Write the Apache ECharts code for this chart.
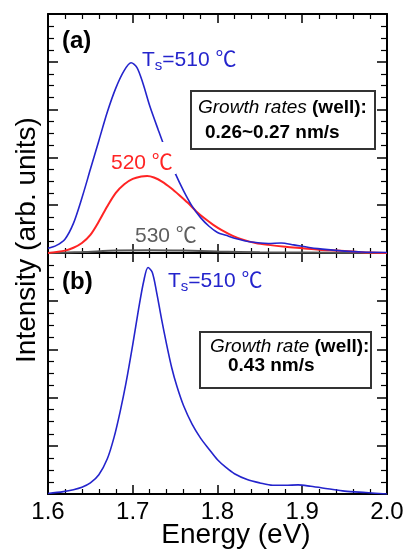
<!DOCTYPE html>
<html><head><meta charset="utf-8">
<script src="https://cdn.jsdelivr.net/npm/echarts@6/dist/echarts.min.js"></script>
<style>html,body{margin:0;padding:0;background:#fff}#c{width:407px;height:549px}</style>
</head><body><div id="c"></div>
<script>
// ---- data ----
const xTickLabels = ['1.6', '1.7', '1.8', '1.9', '2.0'];
const yRange = [0, 5];

// Panel (a): Ts = 510 C
const energyA510 = [1.600,1.610,1.620,1.630,1.640,1.650,1.660,1.670,1.680,1.690,1.698,1.705,1.712,1.720,1.730,1.740,1.750,1.760,1.770,1.780,1.790,1.800,1.810,1.820,1.840,1.860,1.875,1.890,1.910,1.930,1.950,1.970,2.000];
const intensityA510 = [0.10,0.16,0.29,0.62,1.15,1.75,2.35,2.95,3.45,3.82,3.98,3.88,3.55,3.08,2.58,2.10,1.67,1.30,0.98,0.74,0.56,0.43,0.37,0.31,0.23,0.20,0.21,0.17,0.11,0.07,0.04,0.02,0.01];

// Panel (a): 520 C
const energyA520 = [1.600,1.620,1.630,1.640,1.650,1.660,1.670,1.680,1.690,1.700,1.710,1.717,1.725,1.735,1.745,1.755,1.765,1.775,1.785,1.795,1.805,1.818,1.830,1.845,1.860,1.880,1.900,1.920,1.940,1.960,1.980,2.000];
const intensityA520 = [0.00,0.05,0.11,0.21,0.38,0.66,0.98,1.26,1.44,1.55,1.60,1.61,1.58,1.49,1.36,1.21,1.05,0.87,0.72,0.59,0.48,0.36,0.28,0.21,0.17,0.13,0.10,0.07,0.05,0.03,0.01,0.00];

// Panel (a): 530 C
const energyA530 = [1.600,1.640,1.680,1.720,1.760,1.800,1.850,1.900,2.000];
const intensityA530 = [0.00,0.02,0.05,0.06,0.05,0.03,0.015,0.01,0.00];

// Panel (b): Ts = 510 C, high growth rate
const energyB510 = [1.600,1.618,1.630,1.640,1.650,1.660,1.670,1.678,1.685,1.692,1.700,1.707,1.713,1.718,1.723,1.728,1.734,1.740,1.746,1.752,1.760,1.770,1.780,1.790,1.800,1.810,1.820,1.835,1.850,1.865,1.880,1.895,1.910,1.930,1.950,1.975,2.000];
const intensityB510 = [0.01,0.05,0.09,0.14,0.23,0.40,0.73,1.18,1.70,2.30,3.10,3.85,4.42,4.70,4.60,4.20,3.63,3.10,2.62,2.24,1.83,1.45,1.16,0.93,0.71,0.55,0.42,0.30,0.23,0.18,0.18,0.19,0.16,0.11,0.06,0.03,0.00];

// ---- chart ----
const FONT = "'Liberation Sans', 'Noto Sans CJK SC', Arial, sans-serif";
const BLUE = '#2424cc', RED = '#ff2424', GRAY = '#555555';
const zip = (a, b) => a.map((v, i) => [v, b[i]]);
const xMin = parseFloat(xTickLabels[0]), xMax = parseFloat(xTickLabels[xTickLabels.length - 1]);

function xAx(grid, pos, showLabel) {
  return {
    type: 'value', gridIndex: grid, position: pos, min: xMin, max: xMax, interval: 0.1,
    axisLine: { show: true, onZero: false, lineStyle: { color: '#000', width: 2 } },
    axisTick: { show: true, inside: true, length: 9, lineStyle: { color: '#000', width: 1.5 } },
    minorTick: { show: true, splitNumber: 5, length: 5, lineStyle: { color: '#000', width: 1.2 } },
    splitLine: { show: false }, minorSplitLine: { show: false },
    axisLabel: {
      show: showLabel, margin: 6, fontSize: 24, color: '#000', fontFamily: FONT,
      formatter: v => xTickLabels[Math.round((v - xMin) / 0.1)]
    }
  };
}
function yAx(grid, pos) {
  return {
    type: 'value', gridIndex: grid, position: pos, min: yRange[0], max: yRange[1], interval: 1,
    axisLine: { show: true, onZero: false, lineStyle: { color: '#000', width: 2 } },
    axisTick: { show: true, inside: true, length: 10, lineStyle: { color: '#000', width: 1.5 } },
    minorTick: { show: true, splitNumber: 4, length: 6, lineStyle: { color: '#000', width: 1.2 } },
    splitLine: { show: false }, axisLabel: { show: false }
  };
}
function txt(x, y, text, o) {
  return Object.assign({ type: 'text', x: x, y: y, z: 20,
    style: Object.assign({ text: text, fontFamily: FONT, fontSize: 21, fill: '#000', textAlign: 'left', textVerticalAlign: 'middle' }, o || {}) });
}
function tsLabel(x, y) {
  return txt(x, y, '{a|T}{s|s}{a|=510 ℃}', {
    fill: BLUE,
    rich: {
      a: { fontFamily: FONT, fontSize: 21, fill: BLUE },
      s: { fontFamily: FONT, fontSize: 15, fill: BLUE, padding: [12, 0, 0, 0] }
    }
  });
}

const chart = echarts.init(document.getElementById('c'), null, { renderer: 'canvas' });
chart.setOption({
  backgroundColor: '#fff',
  animation: false,
  grid: [
    { left: 48, top: 14, width: 339, height: 239 },
    { left: 48, top: 253, width: 339, height: 241 }
  ],
  xAxis: [xAx(0, 'bottom', false), xAx(0, 'top', false), xAx(1, 'bottom', true), xAx(1, 'top', false)],
  yAxis: [yAx(0, 'left'), yAx(0, 'right'), yAx(1, 'left'), yAx(1, 'right')],
  series: [
    { type: 'line', xAxisIndex: 0, yAxisIndex: 0, data: zip(energyA530, intensityA530), showSymbol: false, smooth: 0.3, lineStyle: { color: GRAY, width: 2 }, z: 2 },
    { type: 'line', xAxisIndex: 0, yAxisIndex: 0, data: zip(energyA520, intensityA520), showSymbol: false, smooth: 0.3, lineStyle: { color: RED, width: 2 }, z: 3 },
    { type: 'line', xAxisIndex: 0, yAxisIndex: 0, data: zip(energyA510, intensityA510), showSymbol: false, smooth: 0.3, lineStyle: { color: BLUE, width: 1.6 }, z: 4 },
    { type: 'line', xAxisIndex: 2, yAxisIndex: 2, data: zip(energyB510, intensityB510), showSymbol: false, smooth: 0.3, lineStyle: { color: BLUE, width: 1.6 }, z: 4 }
  ],
  graphic: [
    txt(62, 41, '(a)', { fontSize: 24, fontWeight: 'bold' }),
    txt(62, 282, '(b)', { fontSize: 24, fontWeight: 'bold' }),
    tsLabel(142, 60),
    tsLabel(168, 281),
    { type: 'rect', z: 15, shape: { x: 160, y: 142, width: 16, height: 32 }, style: { fill: '#fff' } },
    txt(111, 163, '520 ℃', { fill: RED }),
    txt(135, 236, '530 ℃', { fill: '#5e5e5e' }),
    { type: 'rect', z: 18, shape: { x: 191, y: 91, width: 184, height: 58 }, style: { fill: '#fff', stroke: '#333', lineWidth: 2 } },
    txt(198, 108, '{i|Growth rates} {b|(well):}', { fontSize: 19, rich: { i: { fontFamily: FONT, fontSize: 19, fontStyle: 'italic' }, b: { fontFamily: FONT, fontSize: 19, fontWeight: 'bold' } } }),
    txt(205, 133, '0.26~0.27 nm/s', { fontSize: 19, fontWeight: 'bold' }),
    { type: 'rect', z: 18, shape: { x: 200, y: 332, width: 171, height: 56 }, style: { fill: '#fff', stroke: '#333', lineWidth: 2 } },
    txt(210, 347, '{i|Growth rate} {b|(well):}', { fontSize: 19, rich: { i: { fontFamily: FONT, fontSize: 19, fontStyle: 'italic' }, b: { fontFamily: FONT, fontSize: 19, fontWeight: 'bold' } } }),
    txt(228, 366, '0.43 nm/s', { fontSize: 19, fontWeight: 'bold' }),
    { type: 'text', x: 27, y: 240, rotation: Math.PI / 2, z: 20,
      style: { text: 'Intensity (arb. units)', fontFamily: FONT, fontSize: 28, fill: '#000', textAlign: 'center', textVerticalAlign: 'middle' } },
    txt(236, 535, 'Energy (eV)', { fontSize: 28, textAlign: 'center' })
  ]
});
</script></body></html>
